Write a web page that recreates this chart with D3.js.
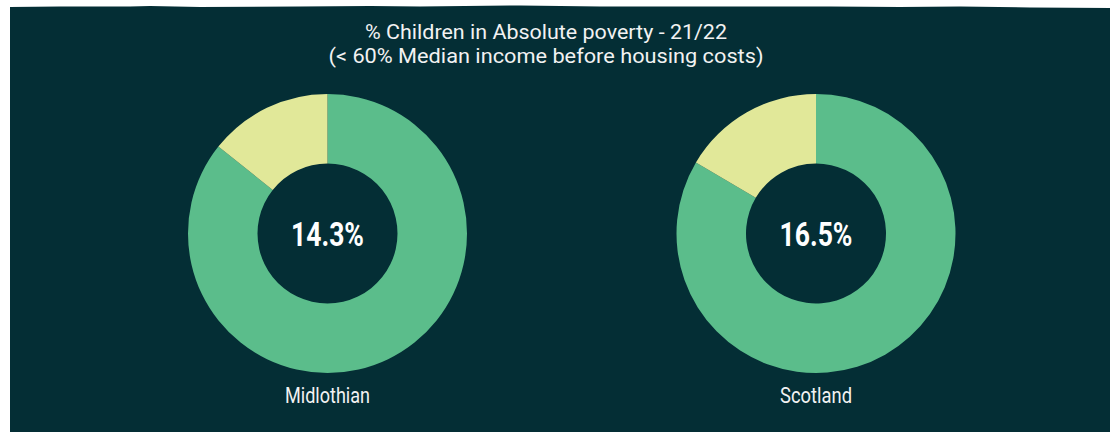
<!DOCTYPE html>
<html>
<head>
<meta charset="utf-8">
<script src="https://cdn.jsdelivr.net/npm/d3@7"></script>
<style>
  html, body { margin: 0; padding: 0; background: #ffffff; }
  svg { display: block; }
</style>
</head>
<body>
<svg id="chart" width="1110" height="432"></svg>
<script>
// ---- data ----
const regions = ["Midlothian", "Scotland"];
const povertyPct = [14.3, 16.5];
const centerLabels = ["14.3%", "16.5%"];
const titleLines = ["% Children in Absolute poverty - 21/22", "(< 60% Median income before housing costs)"];

// ---- style ----
const BG = "#042e35";
const GREEN = "#5bbd8b";
const YELLOW = "#e1e899";
const FONT = "'Liberation Sans Narrow', 'Roboto', 'DejaVu Sans Condensed', sans-serif";

const svg = d3.select("#chart");
const W = 1110, H = 432;

// panel background with slightly rough top edge
svg.append("rect").attr("x", 0).attr("y", 0).attr("width", W).attr("height", H).attr("fill", "#ffffff");
const topEdge = [[10,7],[60,6.5],[130,6.5],[150,6],[200,7],[300,6.5],[370,6],[420,6.5],[520,5.5],[600,6.5],[700,6.5],[780,6.5],[830,6.5],[900,7],[960,6.5],[1030,7.5],[1110,8]];
const edgePath = d3.path();
edgePath.moveTo(10, H);
topEdge.forEach((p) => edgePath.lineTo(p[0], p[1]));
edgePath.lineTo(W, H);
edgePath.closePath();
svg.append("path").attr("d", edgePath.toString()).attr("fill", BG);

// title
const titleWidths = [362, 435];
svg.selectAll("text.title").data(titleLines).join("text")
  .attr("class", "title")
  .attr("x", 546)
  .attr("y", (d, i) => 39 + i * 24)
  .attr("text-anchor", "middle")
  .attr("fill", "#f2f2f2")
  .attr("font-family", FONT)
  .attr("font-size", 20)
  .attr("textLength", (d, i) => titleWidths[i])
  .attr("lengthAdjust", "spacingAndGlyphs")
  .text(d => d);

// donuts
const x = d3.scalePoint().domain(regions).range([327.5, 816]);
const cy = 233.5;
const outerR = 139.5, innerR = 70;

const pie = d3.pie().sort(null).value(d => d.value);
const arc = d3.arc().innerRadius(innerR).outerRadius(outerR);
const color = d3.scaleOrdinal().domain(["rest", "poverty"]).range([GREEN, YELLOW]);

const labelWidths = [85, 72];
const centerWidths = [73, 73];

regions.forEach((r, i) => {
  const g = svg.append("g").attr("transform", `translate(${x(r)},${cy})`);
  const slices = [
    { key: "rest", value: 100 - povertyPct[i] },
    { key: "poverty", value: povertyPct[i] }
  ];
  g.selectAll("path").data(pie(slices)).join("path")
    .attr("d", arc)
    .attr("fill", d => color(d.data.key));

  g.append("text")
    .attr("x", 0).attr("y", 12)
    .attr("text-anchor", "middle")
    .attr("fill", "#ffffff")
    .attr("font-family", FONT)
    .attr("font-weight", "bold")
    .attr("font-size", 34)
    .attr("textLength", centerWidths[i])
    .attr("lengthAdjust", "spacingAndGlyphs")
    .text(centerLabels[i]);

  svg.append("text")
    .attr("x", x(r)).attr("y", 403)
    .attr("text-anchor", "middle")
    .attr("fill", "#f2f2f2")
    .attr("font-family", FONT)
    .attr("font-size", 22)
    .attr("textLength", labelWidths[i])
    .attr("lengthAdjust", "spacingAndGlyphs")
    .text(r);
});
</script>
</body>
</html>
